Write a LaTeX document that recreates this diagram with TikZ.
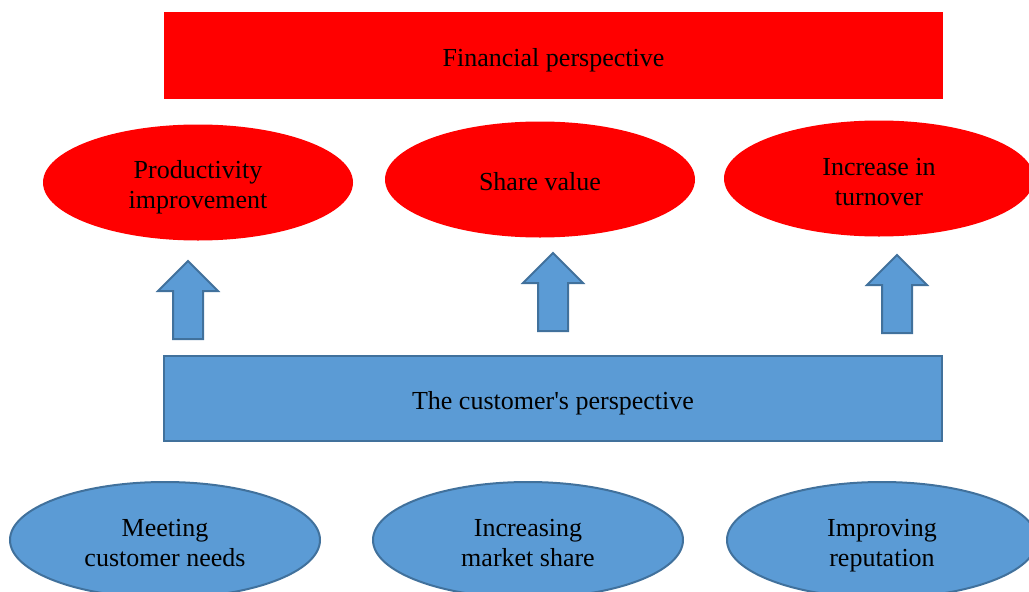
\documentclass[tikz,border=0pt]{standalone}
\usepackage{fontspec}
\setmainfont{Liberation Serif}
\usetikzlibrary{shapes.geometric}
\definecolor{bfill}{HTML}{5B9BD5}
\definecolor{bline}{HTML}{41719C}
\definecolor{rfill}{HTML}{FF0000}
\tikzset{
  lbl/.style={font=\fontsize{26}{30}\selectfont, align=center, text=black, inner sep=0pt},
  redbox/.style={rectangle, fill=rfill, draw=none, minimum width=779pt, minimum height=87pt, inner sep=0pt},
  bluebox/.style={rectangle, fill=bfill, draw=bline, line width=2pt, minimum width=778pt, minimum height=85pt, inner sep=0pt},
  redell/.style={ellipse, fill=rfill, draw=none, minimum width=310pt, minimum height=116pt, inner sep=0pt},
  blueell/.style={ellipse, fill=bfill, draw=bline, line width=2pt, minimum width=310pt, minimum height=116pt, inner sep=0pt},
  txt/.style n args={2}{label={[lbl,yshift=#1]center:{#2}}},
  arrowstyle/.style={fill=bfill, draw=bline, line width=2pt, line join=miter},
  uparrow/.pic={\draw[arrowstyle] (-15,78) -- (-15,30) -- (-30,30) -- (0,0) -- (30,30) -- (15,30) -- (15,78) -- cycle;}
}
\begin{document}
\begin{tikzpicture}[x=1pt,y=-1pt]
\useasboundingbox (0,0) rectangle (1029,592);
\node[redbox, txt={-5pt}{Financial perspective}] (fin) at (553.5,55.5) {};
\node[redell, txt={-5pt}{Productivity\\improvement}] (prod) at (198,182.5) {};
\node[redell, txt={-2pt}{Share value}] (share) at (540,179.5) {};
\node[redell, txt={-4pt}{Increase in\\turnover}] (turn) at (879,178.5) {};
\pic (a1) at (188,261) {uparrow};
\pic (a2) at (553,253) {uparrow};
\pic (a3) at (897,255) {uparrow};
\node[bluebox, txt={-5pt}{The customer\textquotesingle s perspective}] (cust) at (553,398.5) {};
\node[blueell, txt={-3pt}{Meeting\\customer needs}] (meet) at (165,540) {};
\node[blueell, txt={-3pt}{Increasing\\market share}] (mark) at (528,540) {};
\node[blueell, txt={-6pt}{Improving\\reputation}] (rep) at (882,540) {};
\end{tikzpicture}
\end{document}
